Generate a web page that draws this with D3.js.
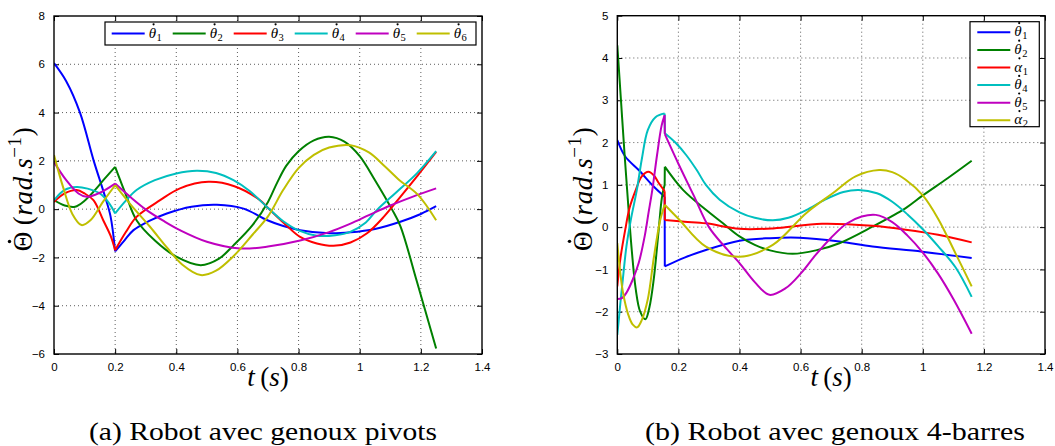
<!DOCTYPE html>
<html><head><meta charset="utf-8">
<script src="https://cdn.jsdelivr.net/npm/d3@7"></script>
<style>
html,body{margin:0;padding:0;background:#fff;}
svg{display:block;}
.serif{font-family:'Liberation Serif','Times New Roman',Times,serif;}
.sans{font-family:'Liberation Sans',Arial,Helvetica,sans-serif;}
</style>
</head><body>
<svg id="chart" width="1055" height="446"></svg>
<script>
// ---------- DATA ----------
// Panel (a): Robot avec genoux pivots  [t (s), value (rad/s)]
const a_th1 = [[0,6.05],[0.04,5.3],[0.085,4.0],[0.13,2.0],[0.165,0.6],[0.185,-0.3],[0.2,-1.75],[0.23,-1.3],[0.26,-0.87],[0.31,-0.5],[0.369,-0.18],[0.45,0.1],[0.533,0.18],[0.62,0.02],[0.696,-0.45],[0.75,-0.7],[0.805,-0.87],[0.9,-1.0],[0.97,-0.96],[1.05,-0.82],[1.133,-0.52],[1.2,-0.2],[1.25,0.12]];
const a_th2 = [[0,0.37],[0.035,0.15],[0.069,0.1],[0.1,0.35],[0.129,0.72],[0.165,1.25],[0.2,1.75],[0.235,0.6],[0.27,-0.46],[0.33,-1.3],[0.4,-1.97],[0.48,-2.32],[0.54,-2.05],[0.587,-1.5],[0.65,-0.65],[0.7,0.3],[0.73,1.1],[0.76,1.8],[0.8,2.4],[0.85,2.85],[0.9,3.0],[0.95,2.8],[1.0,2.2],[1.05,1.2],[1.105,0.0],[1.133,-0.7],[1.187,-3.0],[1.25,-5.77]];
const a_th3 = [[0,0.3],[0.035,0.65],[0.074,0.79],[0.1,0.65],[0.129,0.37],[0.161,-0.46],[0.185,-1.1],[0.2,-1.7],[0.235,-0.95],[0.27,-0.32],[0.347,0.37],[0.412,0.86],[0.505,1.13],[0.59,0.95],[0.674,0.37],[0.696,0.1],[0.75,-0.55],[0.805,-1.15],[0.86,-1.42],[0.914,-1.52],[0.97,-1.38],[1.024,-1.0],[1.08,-0.3],[1.133,0.51],[1.19,1.4],[1.25,2.37]];
const a_th4 = [[0,0.37],[0.035,0.8],[0.074,0.92],[0.11,0.85],[0.15,0.65],[0.18,0.25],[0.2,-0.18],[0.235,0.35],[0.27,0.79],[0.33,1.2],[0.4,1.48],[0.467,1.59],[0.53,1.5],[0.587,1.2],[0.64,0.75],[0.7,0.05],[0.75,-0.5],[0.8,-0.88],[0.86,-1.1],[0.92,-1.08],[0.969,-0.94],[1.02,-0.55],[1.056,-0.04],[1.12,0.7],[1.187,1.48],[1.25,2.4]];
const a_th5 = [[0,1.95],[0.04,1.2],[0.08,0.65],[0.107,0.51],[0.15,0.68],[0.2,1.06],[0.25,0.5],[0.303,-0.04],[0.36,-0.5],[0.412,-0.87],[0.5,-1.35],[0.609,-1.63],[0.7,-1.55],[0.805,-1.3],[0.9,-0.95],[0.97,-0.6],[1.03,-0.25],[1.1,0.15],[1.17,0.5],[1.25,0.86]];
const a_th6 = [[0,2.24],[0.03,0.9],[0.06,-0.2],[0.09,-0.66],[0.12,-0.45],[0.16,0.3],[0.2,0.99],[0.25,0.2],[0.314,-0.73],[0.37,-1.6],[0.42,-2.3],[0.48,-2.73],[0.53,-2.55],[0.587,-1.95],[0.65,-1.05],[0.7,-0.3],[0.75,0.8],[0.8,1.7],[0.85,2.25],[0.9,2.55],[0.97,2.65],[1.03,2.35],[1.08,1.8],[1.13,1.2],[1.19,0.6],[1.25,-0.46]];

// Panel (b): Robot avec genoux 4-barres
const b_th1 = [[0,2.06],[0.026,1.67],[0.07,1.35],[0.119,0.96],[0.155,0.72],[0.1555,-0.93],[0.22,-0.72],[0.29,-0.54],[0.4,-0.32],[0.5,-0.26],[0.596,-0.25],[0.727,-0.34],[0.835,-0.46],[0.998,-0.58],[1.16,-0.73]];
const b_th2 = [[0,4.3],[0.012,3.0],[0.024,1.7],[0.036,0.5],[0.048,-0.6],[0.06,-1.45],[0.075,-2.0],[0.092,-2.18],[0.105,-1.9],[0.119,-1.25],[0.135,-0.1],[0.146,0.7],[0.155,1.0],[0.1555,1.43],[0.215,0.88],[0.29,0.41],[0.346,0.09],[0.4,-0.22],[0.45,-0.42],[0.5,-0.55],[0.574,-0.63],[0.65,-0.55],[0.727,-0.38],[0.835,0.01],[0.944,0.45],[1.0,0.75],[1.08,1.15],[1.16,1.57]];
const b_al1 = [[0,-1.4],[0.01,-0.75],[0.026,-0.06],[0.04,0.45],[0.059,0.85],[0.08,1.2],[0.102,1.31],[0.12,1.22],[0.135,1.05],[0.155,0.85],[0.1555,0.17],[0.22,0.13],[0.29,0.09],[0.4,-0.04],[0.51,-0.03],[0.67,0.08],[0.835,0.03],[0.944,-0.06],[1.05,-0.18],[1.16,-0.36]];
const b_th4 = [[0,-2.55],[0.01,-1.8],[0.02,-1.1],[0.03,-0.45],[0.045,0.2],[0.064,0.88],[0.08,1.6],[0.1,2.3],[0.125,2.6],[0.155,2.69],[0.1555,2.22],[0.19,2.0],[0.226,1.7],[0.26,1.35],[0.29,1.0],[0.335,0.65],[0.4,0.35],[0.45,0.22],[0.509,0.16],[0.56,0.22],[0.618,0.4],[0.68,0.65],[0.74,0.83],[0.79,0.88],[0.85,0.8],[0.9,0.6],[0.95,0.3],[1.0,-0.05],[1.05,-0.45],[1.107,-0.95],[1.16,-1.65]];
const b_th5 = [[0,-1.7],[0.015,-1.68],[0.03,-1.55],[0.05,-1.25],[0.07,-0.85],[0.09,-0.2],[0.102,0.33],[0.115,0.9],[0.13,1.7],[0.145,2.4],[0.155,2.65],[0.1555,2.2],[0.2,1.5],[0.25,0.75],[0.3,0.0],[0.35,-0.45],[0.4,-0.85],[0.45,-1.3],[0.498,-1.6],[0.55,-1.45],[0.6,-1.1],[0.65,-0.65],[0.7,-0.25],[0.75,0.08],[0.8,0.25],[0.846,0.29],[0.9,0.12],[0.95,-0.2],[1.0,-0.6],[1.05,-1.1],[1.1,-1.7],[1.16,-2.52]];
const b_al2 = [[0,-0.38],[0.01,-1.1],[0.02,-1.6],[0.035,-2.05],[0.05,-2.3],[0.065,-2.37],[0.08,-2.2],[0.1,-1.7],[0.12,-0.7],[0.14,0.15],[0.155,0.53],[0.2,0.2],[0.29,-0.46],[0.4,-0.7],[0.509,-0.42],[0.618,0.33],[0.705,0.8],[0.78,1.2],[0.857,1.35],[0.9,1.3],[0.944,1.12],[1.0,0.75],[1.05,0.2],[1.107,-0.62],[1.16,-1.4]];

// corner instants (curves are not smooth across these)
const cornersA = [0.2];
const cornersB = [0.155, 0.1555];

const xTicks = [0,0.2,0.4,0.6,0.8,1,1.2,1.4];
const yTicksA = [-6,-4,-2,0,2,4,6,8];
const yTicksB = [-3,-2,-1,0,1,2,3,4,5];
const legendA = [["θ","1"],["θ","2"],["θ","3"],["θ","4"],["θ","5"],["θ","6"]];
const legendB = [["θ","1"],["θ","2"],["α","1"],["θ","4"],["θ","5"],["α","2"]];
const captionA = "(a) Robot avec genoux pivots";
const captionB = "(b) Robot avec genoux 4-barres";

// ---------- DRAW ----------
const colors = ["#0000ff","#008000","#ff0000","#00bfbf","#bf00bf","#bfbf00"];
const svg = d3.select("#chart");

function fmt(v){ return (v<0?"\u2212":"") + String(Math.abs(v)); }

function splitAt(data, corners){
  const segs=[]; let cur=[];
  data.forEach(p=>{
    cur.push(p);
    if(corners.includes(p[0])){ segs.push(cur); cur=[p]; }
  });
  if(cur.length>1) segs.push(cur);
  return segs;
}

function panel(cfg){
  const g = svg.append("g");
  const x = d3.scaleLinear().domain([0,1.4]).range([cfg.x0,cfg.x1]);
  const y = d3.scaleLinear().domain(cfg.ydom).range([cfg.y1,cfg.y0]);
  const id = "clip"+cfg.name;
  svg.append("clipPath").attr("id",id).append("rect")
     .attr("x",cfg.x0).attr("y",cfg.y0).attr("width",cfg.x1-cfg.x0).attr("height",cfg.y1-cfg.y0);
  // grid
  const grid = g.append("g").attr("stroke","#333").attr("stroke-width",0.8).attr("stroke-dasharray","1,3");
  xTicks.slice(1,-1).forEach(t=>grid.append("line").attr("x1",x(t)).attr("x2",x(t)).attr("y1",cfg.y0).attr("y2",cfg.y1));
  cfg.yticks.slice(1,-1).forEach(t=>grid.append("line").attr("y1",y(t)).attr("y2",y(t)).attr("x1",cfg.x0).attr("x2",cfg.x1));
  // axes (ticks inward, all four sides)
  g.append("g").attr("transform",`translate(0,${cfg.y1})`).call(d3.axisBottom(x).tickValues(xTicks).tickSize(-5).tickPadding(9).tickFormat(fmt));
  g.append("g").attr("transform",`translate(0,${cfg.y0})`).call(d3.axisTop(x).tickValues(xTicks).tickSize(-5).tickFormat(""));
  g.append("g").attr("transform",`translate(${cfg.x0},0)`).call(d3.axisLeft(y).tickValues(cfg.yticks).tickSize(-5).tickPadding(9).tickFormat(fmt));
  g.append("g").attr("transform",`translate(${cfg.x1},0)`).call(d3.axisRight(y).tickValues(cfg.yticks).tickSize(-5).tickFormat(""));
  g.selectAll(".domain").remove();
  g.selectAll(".tick line").attr("stroke","#000").attr("stroke-width",1);
  g.selectAll(".tick text").attr("class","sans").attr("font-family",null).attr("font-size",11.5).attr("fill","#000");
  // series
  const smooth = d3.line().x(d=>x(d[0])).y(d=>y(d[1])).curve(d3.curveCatmullRom.alpha(0.5));
  const sg = g.append("g").attr("clip-path",`url(#${id})`);
  cfg.series.forEach((s,i)=>{
    const d = splitAt(s, cfg.corners).map(seg=>smooth(seg)).join("");
    sg.append("path").attr("d",d).attr("fill","none").attr("stroke",colors[i]).attr("stroke-width",2)
      .attr("stroke-linejoin","round").attr("stroke-linecap","butt");
  });
  // box
  g.append("rect").attr("x",cfg.x0).attr("y",cfg.y0).attr("width",cfg.x1-cfg.x0).attr("height",cfg.y1-cfg.y0)
    .attr("fill","none").attr("stroke","#000").attr("stroke-width",1.4);
  // x label
  const xl = g.append("text").attr("class","serif").attr("x",(cfg.x0+cfg.x1)/2).attr("y",386).attr("text-anchor","middle")
     .attr("font-size",27);
  xl.append("tspan").attr("font-style","italic").text("t");
  xl.append("tspan").text("\u2009(");
  xl.append("tspan").attr("font-style","italic").text("s");
  xl.append("tspan").text(")");
  // y label (rotated)
  const yg = g.append("g").attr("transform",`translate(${cfg.ylx},${(cfg.y0+cfg.y1)/2+4}) rotate(-90)`);
  const yl = yg.append("text").attr("class","serif").attr("text-anchor","middle").attr("font-size",27).attr("letter-spacing",0.6);
  yl.append("tspan").text("\u0398\u2009(");
  yl.append("tspan").attr("font-style","italic").text("rad.s");
  yl.append("tspan").attr("font-size",19).attr("dy",-11).text("\u22121");
  yl.append("tspan").attr("dy",11).text(")");
  const e0 = yl.node().getExtentOfChar(0);
  yg.append("circle").attr("cx", e0.x + e0.width/2 - 0.3).attr("cy", -22.5).attr("r",1.7).attr("fill","#000");
  // legend
  const lg = g.append("g");
  lg.append("rect").attr("x",cfg.leg.x).attr("y",cfg.leg.y).attr("width",cfg.leg.w).attr("height",cfg.leg.h)
    .attr("fill","#fff").attr("stroke","#000").attr("stroke-width",1.2);
  cfg.legend.forEach((l,i)=>{
    const lx = cfg.leg.ex(i), ly = cfg.leg.ey(i);
    lg.append("line").attr("x1",lx).attr("x2",lx+33).attr("y1",ly).attr("y2",ly).attr("stroke",colors[i]).attr("stroke-width",2);
    const t = lg.append("text").attr("class","serif").attr("x",lx+37).attr("y",ly+4).attr("font-size",15);
    t.append("tspan").attr("font-style","italic").text(l[0]);
    t.append("tspan").attr("font-size",10.5).attr("dy",3).attr("dx",0.5).text(l[1]);
    const e = t.node().getExtentOfChar(0);
    lg.append("circle").attr("cx", e.x + e.width/2 + 1.2).attr("cy", ly - 9.2).attr("r",1.1).attr("fill","#000");
  });
  // caption
  svg.append("text").attr("class","serif").attr("x",cfg.cap.x).attr("y",440).attr("font-size",26)
     .attr("textLength",cfg.cap.w).attr("lengthAdjust","spacingAndGlyphs").text(cfg.cap.text);
}

panel({name:"A", x0:54, x1:482, y0:16, y1:354, ydom:[-6,8], yticks:yTicksA, ylx:32, corners:cornersA,
  series:[a_th1,a_th2,a_th3,a_th4,a_th5,a_th6], legend:legendA,
  leg:{x:105,y:22,w:371,h:23, ex:i=>111.7+i*61, ey:i=>33.5},
  cap:{x:89,w:348,text:captionA}});
panel({name:"B", x0:617.3, x1:1045, y0:15.7, y1:354, ydom:[-3,5], yticks:yTicksB, ylx:592, corners:cornersB,
  series:[b_th1,b_th2,b_al1,b_th4,b_th5,b_al2], legend:legendB,
  leg:{x:970,y:21.7,w:69.3,h:105, ex:i=>977.3, ey:i=>32.3+i*17.6},
  cap:{x:645,w:380,text:captionB}});
</script>
</body></html>
